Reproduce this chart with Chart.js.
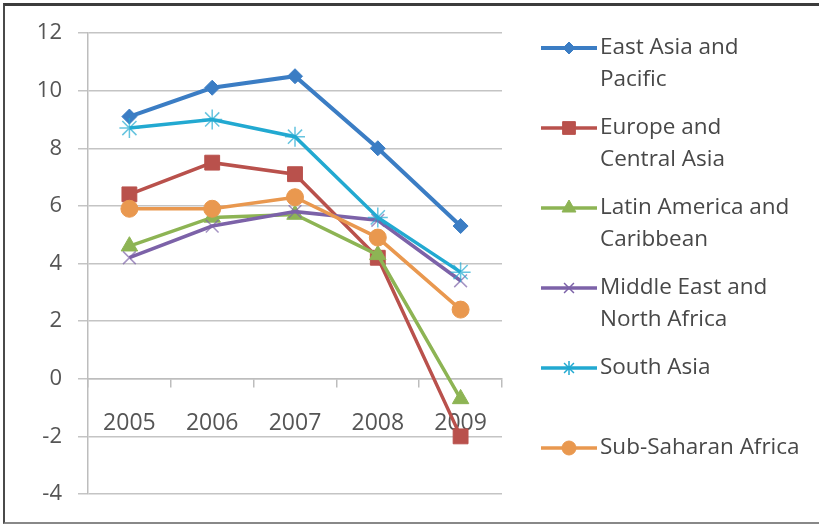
<!DOCTYPE html>
<html>
<head>
<meta charset="utf-8">
<script src="https://cdn.jsdelivr.net/npm/chart.js@4/dist/chart.umd.min.js"></script>
<style>
    html, body { margin: 0; padding: 0; background: #fff; }
    #wrap { position: relative; width: 819px; height: 524px; }
    #frame {
        position: absolute; left: 3px; top: 3px; width: 816px; height: 516px;
        border-top: 3px solid #3c3c3c; border-left: 2px solid #4a4a4a; border-bottom: 2px solid #888;
        pointer-events: none;
    }
</style>
</head>
<body>
<div id="wrap">
    <canvas id="myChart" width="819" height="524"></canvas>
    <div id="frame"></div>
</div>
<script>
// ---- data ----
const years = ['2005', '2006', '2007', '2008', '2009'];
const regions = ['East Asia and Pacific', 'Europe and Central Asia', 'Latin America and Caribbean',
    'Middle East and North Africa', 'South Asia', 'Sub-Saharan Africa'];
const eastAsia = [9.1, 10.1, 10.5, 8.0, 5.3];
const europe = [6.4, 7.5, 7.1, 4.2, -2.0];
const latinAmerica = [4.6, 5.6, 5.7, 4.3, -0.7];
const middleEast = [4.2, 5.3, 5.8, 5.5, 3.4];
const southAsia = [8.7, 9.0, 8.4, 5.6, 3.7];
const subSahara = [5.9, 5.9, 6.3, 4.9, 2.4];
const yTicks = [-4, -2, 0, 2, 4, 6, 8, 10, 12];

// legend text wrapped like the original
const legendLines = [
    ['East Asia and', 'Pacific'],
    ['Europe and', 'Central Asia'],
    ['Latin America and', 'Caribbean'],
    ['Middle East and', 'North Africa'],
    ['South Asia'],
    ['Sub-Saharan Africa']
];

const FONT = "'Open Sans', 'DejaVu Sans', sans-serif";
const series = [eastAsia, europe, latinAmerica, middleEast, southAsia, subSahara];
const styles = [
    { color: '#3b7dc4', point: 'rectRot', r: 7.5, bw: 4, lr: 6 },
    { color: '#b9514c', point: 'rect', r: 10.5, bw: 3.5, lr: 9 },
    { color: '#8db454', point: 'triangle', r: 9.5, bw: 3.5, lr: 8 },
    { color: '#7c62a8', point: 'crossRot', r: 9, bw: 3.5, lr: 7 },
    { color: '#22a9d1', point: 'star', r: 10, bw: 3.5, lr: 7 },
    { color: '#e9984f', point: 'circle', r: 8.5, bw: 3.5, lr: 7 }
];

const datasets = series.map((vals, i) => {
    var s = styles[i];
    var thin = s.point === 'crossRot' || s.point === 'star';
    return {
        label: regions[i],
        data: vals,
        borderColor: s.color,
        backgroundColor: s.color,
        borderWidth: s.bw,
        pointStyle: s.point,
        pointRadius: s.r,
        pointBorderWidth: thin ? 1.5 : 1,
        pointBorderColor: thin ? s.color + 'b0' : s.color,
        pointBackgroundColor: s.color,
        tension: 0,
        order: series.length - i
    };
});

// custom legend, two lines per entry
const sideLegend = {
    id: 'sideLegend',
    afterDraw(chart) {
        var ctx = chart.ctx;
        ctx.save();
        styles.forEach((s, i) => {
            var y = 48 + 80 * i;
            ctx.strokeStyle = s.color;
            ctx.fillStyle = s.color;
            ctx.lineWidth = s.bw;
            ctx.beginPath();
            ctx.moveTo(541, y);
            ctx.lineTo(597, y);
            ctx.stroke();
            var thin = s.point === 'crossRot' || s.point === 'star';
            ctx.lineWidth = thin ? 1.5 : 1;
            Chart.helpers.drawPoint(ctx, { pointStyle: s.point, radius: s.lr, rotation: 0, borderWidth: thin ? 1.5 : 1 }, 569, y);
            ctx.fillStyle = '#484848';
            ctx.font = '22.5px ' + FONT;
            ctx.textAlign = 'left';
            ctx.textBaseline = 'middle';
            legendLines[i].forEach((t, k) => ctx.fillText(t, 600, y + 32 * k));
        });
        ctx.restore();
    }
};

const config = {
    type: 'line',
    data: { labels: years, datasets: datasets },
    options: {
        responsive: false,
        animation: false,
        layout: { padding: { left: 0, right: 317, top: 33, bottom: 30 } },
        plugins: {
            legend: { display: false },
            tooltip: { enabled: false }
        },
        scales: {
            x: {
                position: { y: 0 },
                offset: true,
                grid: { offset: true, drawOnChartArea: false, tickLength: 8, color: '#bdbdbd', lineWidth: 1.5 },
                border: { color: '#bdbdbd', width: 1.5 },
                ticks: { color: '#555555', font: { family: FONT, size: 23 }, padding: 23, maxRotation: 0 }
            },
            y: {
                min: yTicks[0],
                max: yTicks[yTicks.length - 1],
                afterFit: (scale) => { scale.width = 88; },
                afterBuildTicks: (scale) => { scale.ticks = yTicks.map(v => ({ value: v })); },
                grid: { tickLength: 10, color: '#c4c4c4', lineWidth: 1.5 },
                border: { color: '#bdbdbd', width: 1.5 },
                ticks: { color: '#555555', font: { family: FONT, size: 22 }, padding: 16 }
            }
        }
    },
    plugins: [sideLegend]
};
new Chart(document.getElementById('myChart'), config);
</script>
</body>
</html>
